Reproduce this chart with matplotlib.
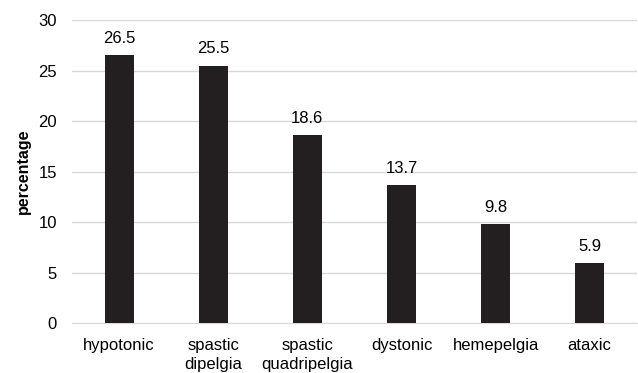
import matplotlib
matplotlib.use("Agg")
import matplotlib.pyplot as plt

categories = ["hypotonic", "spastic\ndipelgia", "spastic\nquadripelgia", "dystonic", "hemepelgia", "ataxic"]
values = [26.5, 25.5, 18.6, 13.7, 9.8, 5.9]
yticks = [0, 5, 10, 15, 20, 25, 30]

plt.rcParams['font.family'] = ['Liberation Sans', 'DejaVu Sans']
fig = plt.figure(figsize=(6.38, 3.73), dpi=100)
ax = fig.add_axes([0.113, 0.134, 0.885, 0.812])
x = list(range(len(categories)))
bars = ax.bar(x, values, width=0.31, color="#231f20", zorder=3)
for xi, v in zip(x, values):
    ax.text(xi, v + 0.9, f"{v}", ha="center", va="bottom", fontsize=12, color="#000000")
ax.set_xlim(-0.5, len(categories) - 0.5)
ax.set_ylim(0, 30)
ax.set_yticks(yticks)
ax.set_xticks(x)
ax.set_xticklabels(categories, fontsize=12, linespacing=1.3)
ax.tick_params(axis='y', labelsize=12, length=0, pad=11)
ax.tick_params(axis='x', length=0, pad=11)
ax.yaxis.grid(True, color="#d9d9d9", linewidth=1, zorder=0)
for s in ["top", "right", "left"]:
    ax.spines[s].set_visible(False)
ax.spines["bottom"].set_color("#d9d9d9")
ax.set_ylabel("percentage", fontsize=11.5, fontweight="bold", labelpad=5)
fig.savefig("out.png", dpi=100)
